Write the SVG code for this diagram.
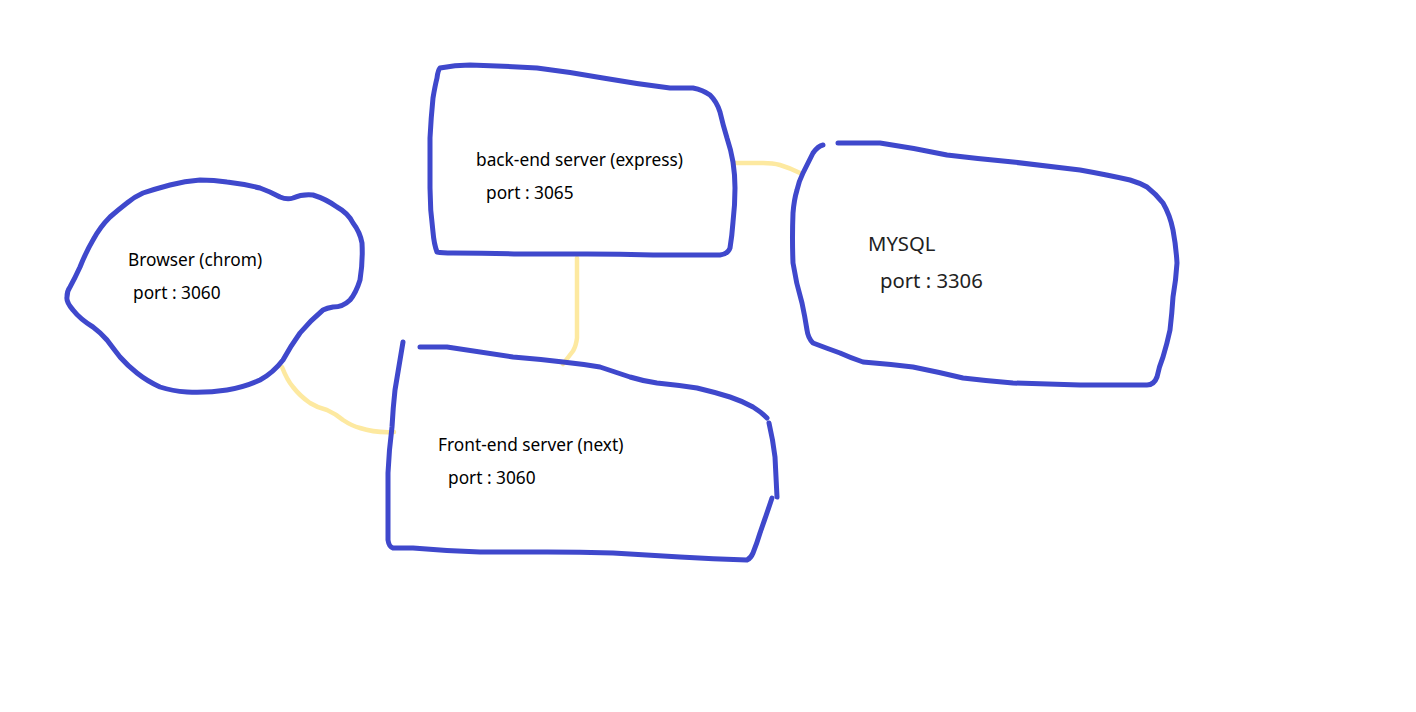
<svg xmlns="http://www.w3.org/2000/svg" width="1416" height="712" viewBox="0 0 1416 712">
<style>
.ink{fill:none;stroke:#3f48cc;stroke-width:5;stroke-linecap:round;stroke-linejoin:round}
.hl{fill:none;stroke:#fde9a0;stroke-width:4.5;stroke-linecap:round;stroke-linejoin:round}
.t{font-family:"Noto Sans","Open Sans","Liberation Sans",sans-serif;font-size:17.3px;fill:#000}
.tb{font-family:"Noto Sans","Open Sans","Liberation Sans",sans-serif;font-size:20.3px;fill:#222}
</style>
<rect width="1416" height="712" fill="#fff"/>
<g id="connectors">
<path class="hl" d="M282,367 Q287,380 293,387 Q300,396 310,403 Q318,408 327,410 Q336,414 343,420 Q352,426 360,428 Q375,433 394,432"/>
<path class="hl" d="M577,258 L577,338 Q576,346 573,351 L563,364"/>
<path class="hl" d="M733,163 L763,163 Q773,163 780,165 Q790,168 800,173"/>
</g>
<g id="browser">
<path class="ink" d="M293,198 Q302,194 313,195 Q326,199 337,207 Q348,213 353,223 Q360,232 362,243 Q363,262 360,280 Q356,293 350,300 Q343,307 333,307 Q327,308 323,310 Q311,320 300,333 Q290,347 283,360 Q273,373 260,380 Q245,387 227,390 Q207,393 187,392 Q172,391 160,387 Q147,381 137,373 Q128,366 120,357 Q113,348 107,340 Q101,333 93,327 Q80,319 73,310 Q66,302 67,297 Q67,291 70,287 Q75,278 80,267 Q86,252 93,240 Q100,227 110,217 Q118,210 127,203 Q134,197 143,193 Q155,189 170,185 Q185,181 200,180 Q214,180 227,182 Q244,184 260,188 Q271,192 280,197 Q287,200 293,198 Z"/>
<text class="t" x="128" y="266">Browser (chrom)</text>
<text class="t" x="133" y="299">port : 3060</text>
</g>
<g id="backend">
<path class="ink" d="M440,68 Q455,65 470,65 Q505,66 537,68 Q570,72 603,78 Q637,84 670,88 Q683,88 693,88 Q703,90 710,95 Q717,102 720,112 Q723,125 727,138 Q731,150 733,162 Q735,175 735,188 Q735,205 733,222 Q732,236 730,248 Q728,254 720,255 Q687,255 653,255 Q620,254 587,254 Q553,254 520,254 Q487,253 453,253 Q442,253 437,252 Q434,244 433,232 Q430,210 430,188 Q430,163 430,138 Q431,118 433,98 Q435,86 437,78 Q438,70 440,68 Z"/>
<text class="t" x="476" y="166">back-end server (express)</text>
<text class="t" x="486" y="199">port : 3065</text>
</g>
<g id="mysql">
<path class="ink" d="M838,143 Q860,143 880,143 Q914,148 947,155 Q980,159 1013,162 Q1047,166 1080,170 Q1108,175 1130,180 Q1140,183 1147,187 Q1156,194 1163,203 Q1170,215 1173,230 Q1176,246 1177,263 Q1176,280 1173,297 Q1172,313 1170,330 Q1167,344 1163,357 Q1159,367 1157,377 Q1154,385 1147,385 Q1114,385 1080,385 Q1047,384 1013,383 Q988,381 963,378 Q938,372 913,367 Q888,364 863,362 Q851,358 840,353 Q826,348 813,343 Q808,338 807,330 Q805,317 802,303 Q796,283 793,263 Q792,238 793,213 Q794,200 797,190 Q799,181 803,173 Q808,163 813,153 Q818,146 823,145"/>
<text class="tb" x="868" y="251">MYSQL</text>
<text class="tb" x="880" y="288">port : 3306</text>
</g>
<g id="frontend">
<path class="ink" d="M403,342 Q399,366 395,390 Q393,408 392,427 Q389,450 388,473 Q388,507 388,540 Q389,547 393,548 Q403,548 413,548 Q447,551 480,552 Q513,552 547,552 Q580,552 613,553 Q647,555 680,557 Q713,559 747,560 Q751,558 753,553 Q757,543 760,533 Q766,516 772,498"/>
<path class="ink" d="M420,347 Q433,347 447,347 Q480,352 513,357 Q538,359 563,362 Q582,364 600,367 Q615,372 630,377 Q643,381 657,383 Q677,385 697,388 Q714,392 730,397 Q742,401 753,407 Q761,412 767,418"/>
<path class="ink" d="M769,423 Q773,440 775,457 Q776,477 777,497"/>
<text class="t" x="438" y="451">Front-end server (next)</text>
<text class="t" x="448" y="484">port : 3060</text>
</g>
</svg>
